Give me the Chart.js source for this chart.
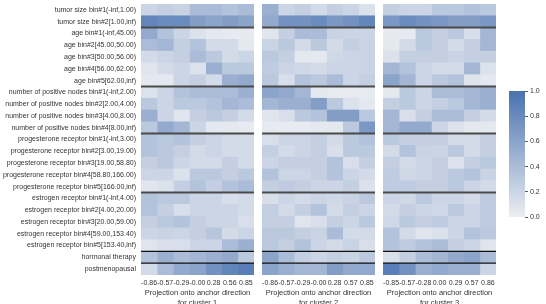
<!DOCTYPE html>
<html>
<head>
<meta charset="utf-8">
<script src="https://cdn.jsdelivr.net/npm/chart.js@4.4.1/dist/chart.umd.min.js"></script>
<style>
  body { margin: 0; background: #fff; overflow: hidden; }
  #wrap { position: relative; width: 546px; height: 304px; overflow: hidden; }
  canvas { position: absolute; top: 0; }
</style>
</head>
<body>
<div id="wrap">
  <canvas id="panel1" width="254" height="308" style="left:0px"></canvas>
  <canvas id="panel2" width="113" height="308" style="left:262px"></canvas>
  <canvas id="panel3" width="113" height="308" style="left:383px"></canvas>
  <canvas id="cbar" width="46" height="304" style="left:500px"></canvas>
</div>
<script>
var rowLabels = [
    'tumor size bin#1(-inf,1.00)',
    'tumor size bin#2[1.00,inf)',
    'age bin#1(-inf,45.00)',
    'age bin#2[45.00,50.00)',
    'age bin#3[50.00,56.00)',
    'age bin#4[56.00,62.00)',
    'age bin#5[62.00,inf)',
    'number of positive nodes bin#1(-inf,2.00)',
    'number of positive nodes bin#2[2.00,4.00)',
    'number of positive nodes bin#3[4.00,8.00)',
    'number of positive nodes bin#4[8.00,inf)',
    'progesterone receptor bin#1(-inf,3.00)',
    'progesterone receptor bin#2[3.00,19.00)',
    'progesterone receptor bin#3[19.00,58.80)',
    'progesterone receptor bin#4[58.80,166.00)',
    'progesterone receptor bin#5[166.00,inf)',
    'estrogen receptor bin#1(-inf,4.00)',
    'estrogen receptor bin#2[4.00,20.00)',
    'estrogen receptor bin#3[20.00,59.00)',
    'estrogen receptor bin#4[59.00,153.40)',
    'estrogen receptor bin#5[153.40,inf)',
    'hormonal therapy',
    'postmenopausal'
];

// group separators: line drawn above these row indices
var groupBreaks = [2, 7, 11, 16, 21, 22];

var xTicks1 = ['-0.86', '-0.57', '-0.29', '-0.00', '0.28', '0.56', '0.85'];
var xTicks2 = ['-0.86', '-0.57', '-0.29', '-0.00', '0.28', '0.57', '0.85'];
var xTicks3 = ['-0.85', '-0.57', '-0.28', '0.00', '0.29', '0.57', '0.86'];

var cbarTicks = [0, 0.2, 0.4, 0.6, 0.8, 1.0];

var cluster1 = [
    [0.20, 0.25, 0.22, 0.40, 0.40, 0.35, 0.40],
    [0.85, 0.80, 0.80, 0.65, 0.60, 0.65, 0.60],
    [0.55, 0.35, 0.20, 0.10, 0.05, 0.03, 0.03],
    [0.40, 0.45, 0.25, 0.35, 0.15, 0.15, 0.05],
    [0.15, 0.20, 0.25, 0.40, 0.30, 0.15, 0.20],
    [0.08, 0.15, 0.20, 0.10, 0.50, 0.30, 0.30],
    [0.05, 0.05, 0.20, 0.25, 0.15, 0.50, 0.55],
    [0.10, 0.20, 0.35, 0.40, 0.40, 0.40, 0.50],
    [0.30, 0.20, 0.30, 0.30, 0.35, 0.45, 0.40],
    [0.50, 0.20, 0.07, 0.25, 0.30, 0.25, 0.15],
    [0.30, 0.55, 0.45, 0.20, 0.05, 0.05, 0.03],
    [0.35, 0.30, 0.35, 0.25, 0.20, 0.15, 0.15],
    [0.35, 0.30, 0.25, 0.15, 0.20, 0.15, 0.15],
    [0.25, 0.30, 0.20, 0.15, 0.15, 0.25, 0.15],
    [0.20, 0.20, 0.10, 0.30, 0.30, 0.25, 0.30],
    [0.07, 0.10, 0.25, 0.35, 0.25, 0.35, 0.40],
    [0.35, 0.30, 0.30, 0.20, 0.20, 0.12, 0.15],
    [0.35, 0.25, 0.12, 0.20, 0.20, 0.20, 0.15],
    [0.25, 0.30, 0.35, 0.25, 0.20, 0.20, 0.12],
    [0.20, 0.22, 0.20, 0.25, 0.32, 0.15, 0.20],
    [0.08, 0.12, 0.12, 0.20, 0.20, 0.40, 0.50],
    [0.35, 0.50, 0.40, 0.45, 0.50, 0.55, 0.30],
    [0.15, 0.40, 0.55, 0.60, 0.75, 0.85, 0.90]
];

var cluster2 = [
    [0.50, 0.20, 0.25, 0.15, 0.25, 0.20, 0.10],
    [0.55, 0.75, 0.75, 0.80, 0.70, 0.75, 0.85],
    [0.07, 0.25, 0.40, 0.40, 0.22, 0.20, 0.20],
    [0.22, 0.30, 0.15, 0.30, 0.15, 0.25, 0.22],
    [0.30, 0.25, 0.05, 0.05, 0.18, 0.20, 0.22],
    [0.28, 0.20, 0.18, 0.15, 0.20, 0.20, 0.22],
    [0.30, 0.12, 0.35, 0.30, 0.40, 0.20, 0.25],
    [0.60, 0.55, 0.45, 0.05, 0.03, 0.03, 0.03],
    [0.45, 0.50, 0.50, 0.65, 0.30, 0.10, 0.05],
    [0.08, 0.12, 0.30, 0.35, 0.65, 0.65, 0.30],
    [0.03, 0.03, 0.03, 0.05, 0.05, 0.30, 0.70],
    [0.12, 0.20, 0.20, 0.25, 0.15, 0.30, 0.35],
    [0.25, 0.15, 0.20, 0.25, 0.12, 0.30, 0.30],
    [0.20, 0.25, 0.25, 0.25, 0.35, 0.12, 0.25],
    [0.35, 0.20, 0.20, 0.25, 0.35, 0.20, 0.15],
    [0.25, 0.28, 0.25, 0.20, 0.20, 0.25, 0.10],
    [0.12, 0.20, 0.15, 0.20, 0.18, 0.22, 0.30],
    [0.25, 0.15, 0.25, 0.35, 0.15, 0.25, 0.20],
    [0.25, 0.25, 0.08, 0.12, 0.25, 0.20, 0.30],
    [0.30, 0.30, 0.25, 0.22, 0.40, 0.15, 0.15],
    [0.30, 0.25, 0.35, 0.20, 0.15, 0.22, 0.12],
    [0.60, 0.40, 0.25, 0.20, 0.25, 0.22, 0.30],
    [0.60, 0.50, 0.45, 0.45, 0.65, 0.55, 0.55]
];

var cluster3 = [
    [0.25, 0.20, 0.20, 0.30, 0.30, 0.35, 0.30],
    [0.70, 0.80, 0.75, 0.70, 0.65, 0.65, 0.70],
    [0.03, 0.03, 0.30, 0.25, 0.30, 0.12, 0.45],
    [0.05, 0.15, 0.30, 0.25, 0.15, 0.25, 0.45],
    [0.10, 0.25, 0.25, 0.25, 0.22, 0.25, 0.25],
    [0.45, 0.35, 0.20, 0.15, 0.15, 0.45, 0.10],
    [0.60, 0.45, 0.20, 0.30, 0.35, 0.08, 0.05],
    [0.05, 0.30, 0.20, 0.40, 0.40, 0.45, 0.50],
    [0.25, 0.30, 0.20, 0.25, 0.30, 0.45, 0.50],
    [0.45, 0.12, 0.25, 0.40, 0.40, 0.25, 0.15],
    [0.45, 0.55, 0.55, 0.20, 0.10, 0.05, 0.05],
    [0.30, 0.25, 0.25, 0.25, 0.15, 0.15, 0.25],
    [0.15, 0.35, 0.22, 0.20, 0.30, 0.15, 0.25],
    [0.25, 0.15, 0.20, 0.25, 0.10, 0.25, 0.30],
    [0.28, 0.18, 0.20, 0.25, 0.30, 0.35, 0.22],
    [0.28, 0.28, 0.25, 0.25, 0.30, 0.20, 0.15],
    [0.20, 0.18, 0.30, 0.20, 0.20, 0.15, 0.28],
    [0.15, 0.25, 0.20, 0.18, 0.30, 0.20, 0.28],
    [0.18, 0.30, 0.25, 0.28, 0.20, 0.20, 0.28],
    [0.35, 0.15, 0.08, 0.10, 0.20, 0.35, 0.30],
    [0.35, 0.28, 0.35, 0.40, 0.25, 0.20, 0.08],
    [0.12, 0.25, 0.40, 0.45, 0.55, 0.60, 0.40],
    [0.90, 0.75, 0.50, 0.55, 0.50, 0.50, 0.20]
];

var lowColor = [236, 238, 242];
var highColor = [74, 114, 176];
var textColor = '#333333';

function cellColor(v) {
    var c = [0, 1, 2].map(function(i) {
        return Math.round(lowColor[i] + (highColor[i] - lowColor[i]) * v);
    });
    return 'rgb(' + c.join(',') + ')';
}

// horizontal separators between feature groups
var separatorPlugin = {
    id: 'separators',
    afterDatasetsDraw: function(chart) {
        var ctx = chart.ctx;
        var ys = chart.scales.y;
        var area = chart.chartArea;
        ctx.save();
        groupBreaks.forEach(function(b, i) {
            var y = (ys.getPixelForValue(b - 1) + ys.getPixelForValue(b)) / 2;
            ctx.strokeStyle = i < 4 ? '#4a4a4a' : '#111111';
            ctx.lineWidth = i < 4 ? 2 : 1.3;
            ctx.beginPath();
            ctx.moveTo(area.left, y);
            ctx.lineTo(area.right, y);
            ctx.stroke();
        });
        ctx.restore();
    }
};

function makePanel(canvasId, matrix, xTicks, clusterNo, showLabels) {
    var datasets = [];
    for (var c = 0; c < 7; c++) {
        datasets.push({
            data: rowLabels.map(function() { return 1; }),
            backgroundColor: matrix.map(function(row) { return cellColor(row[c]); }),
            borderWidth: 0,
            barPercentage: 1,
            categoryPercentage: 1
        });
    }
    return new Chart(document.getElementById(canvasId).getContext('2d'), {
        type: 'bar',
        data: { labels: rowLabels, datasets: datasets },
        plugins: [separatorPlugin],
        options: {
            indexAxis: 'y',
            responsive: false,
            animation: false,
            layout: { padding: { top: 4, left: 0, right: 0, bottom: 0 } },
            plugins: { legend: { display: false }, tooltip: { enabled: false } },
            scales: {
                x: {
                    type: 'linear',
                    stacked: true,
                    min: 0,
                    max: 7,
                    grid: { display: false, drawTicks: false },
                    border: { display: false },
                    afterBuildTicks: function(axis) {
                        axis.ticks = xTicks.map(function(t, i) { return { value: i + 0.5 }; });
                    },
                    afterFit: function(axis) {
                        axis.height = 33;
                        axis.paddingLeft = 0;
                        axis.paddingRight = 0;
                    },
                    ticks: {
                        autoSkip: false,
                        maxRotation: 0,
                        padding: 4,
                        color: textColor,
                        font: { family: 'Liberation Sans', size: 7 },
                        callback: function(value, index) { return xTicks[index]; }
                    },
                    title: {
                        display: true,
                        text: ['Projection onto anchor direction', 'for cluster ' + clusterNo],
                        color: textColor,
                        padding: 0,
                        font: { family: 'Liberation Sans', size: 7.5, lineHeight: 1.3 }
                    }
                },
                y: {
                    stacked: true,
                    display: showLabels,
                    grid: { display: false, drawTicks: false },
                    border: { display: false },
                    afterFit: function(axis) {
                        if (showLabels) axis.width = 141;
                        axis.paddingTop = 0;
                        axis.paddingBottom = 0;
                    },
                    ticks: {
                        autoSkip: false,
                        padding: 5,
                        color: textColor,
                        font: { family: 'Liberation Sans', size: 7 }
                    }
                }
            }
        }
    });
}

makePanel('panel1', cluster1, xTicks1, 1, true);
makePanel('panel2', cluster2, xTicks2, 2, false);
makePanel('panel3', cluster3, xTicks3, 3, false);

// colour bar
new Chart(document.getElementById('cbar').getContext('2d'), {
    type: 'bar',
    data: {
        labels: [''],
        datasets: [{
            data: [1],
            borderWidth: 0,
            barPercentage: 1,
            categoryPercentage: 1,
            backgroundColor: function(context) {
                var area = context.chart.chartArea;
                if (!area) return cellColor(0.5);
                var g = context.chart.ctx.createLinearGradient(0, area.bottom, 0, area.top);
                g.addColorStop(0, cellColor(0));
                g.addColorStop(1, cellColor(1));
                return g;
            }
        }]
    },
    options: {
        responsive: false,
        animation: false,
        layout: { padding: { top: 91, left: 9, right: 0, bottom: 87 } },
        plugins: { legend: { display: false }, tooltip: { enabled: false } },
        scales: {
            x: { display: false },
            y: {
                position: 'right',
                min: 0,
                max: 1,
                grid: { drawOnChartArea: false, drawTicks: true, tickLength: 3, color: textColor, lineWidth: 0.8 },
                border: { display: false },
                afterBuildTicks: function(axis) {
                    axis.ticks = cbarTicks.map(function(v) { return { value: v }; });
                },
                afterFit: function(axis) { axis.width = 21; },
                ticks: {
                    padding: 2,
                    color: textColor,
                    font: { family: 'Liberation Sans', size: 7 },
                    callback: function(value) { return value.toFixed(1); }
                }
            }
        }
    }
});
</script>
</body>
</html>
